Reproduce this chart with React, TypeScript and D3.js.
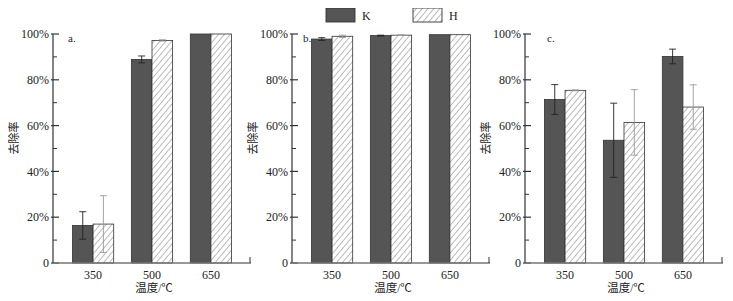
import * as d3 from "d3";
import { useRef, useEffect } from "react";

const temps = ["350", "500", "650"];
const series = ["K", "H"];
const panelNames = ["a.", "b.", "c."];

// removal rate (%) per panel, per temperature
const kValues = [
  [16.4, 88.9, 100],
  [97.8, 99.3, 99.7],
  [71.4, 53.6, 90.2],
];
const hValues = [
  [17.0, 97.2, 100],
  [99.0, 99.5, 99.7],
  [75.4, 61.4, 68.1],
];
const kErrors = [
  [6.0, 1.5, 0],
  [0.6, 0.2, 0],
  [6.5, 16.2, 3.2],
];
const hErrors = [
  [12.4, 0.3, 0],
  [0.5, 0.1, 0],
  [0.2, 14.3, 9.7],
];
const yTicks = [0, 20, 40, 60, 80, 100];
const yMinorTicks = [10, 30, 50, 70, 90];

const panelLeft = [53, 292, 525];
const letterOffset = [15, 11, 22];

const App: React.FC = () => {
  const containerRef = useRef<HTMLDivElement | null>(null);
  const width = 733;
  const height = 301;
  const plotWidth = 198;
  const top = 34;
  const bottom = 263;
  const textColor = "#222";
  const serif = "Liberation Serif, Times New Roman, DejaVu Serif, serif";
  const cjk = "Liberation Serif, Noto Sans CJK SC, serif";

  useEffect(() => {
    d3.select(containerRef.current).selectAll("svg").remove();

    const svg = d3.create("svg")
      .attr("width", width)
      .attr("height", height)
      .attr("viewBox", [0, 0, width, height])
      .style("display", "block")
      .style("font-family", serif);

    svg.append("rect").attr("width", width).attr("height", height).attr("fill", "#fff");

    const defs = svg.append("defs");
    const pat = defs.append("pattern")
      .attr("id", "hatch")
      .attr("patternUnits", "userSpaceOnUse")
      .attr("width", 4.5)
      .attr("height", 4.5)
      .attr("patternTransform", "rotate(40)");
    pat.append("rect").attr("width", 4.5).attr("height", 4.5).attr("fill", "#fff");
    pat.append("line")
      .attr("x1", 0).attr("y1", 0).attr("x2", 0).attr("y2", 4.5)
      .attr("stroke", "#555").attr("stroke-width", 0.8);

    const y = d3.scaleLinear().domain([0, 100]).range([bottom, top]);
    const x = d3.scaleBand().domain(temps).range([0, plotWidth]).paddingInner(0.3).paddingOuter(0.33);
    const xs = d3.scaleBand().domain(series).range([0, x.bandwidth()]);
    const fills: Record<string, string> = { K: "#555", H: "url(#hatch)" };
    const errColor: Record<string, string> = { K: "#222", H: "#999" };

    panelLeft.forEach((left, p) => {
      const g = svg.append("g").attr("transform", `translate(${left},0)`);

      // bars
      const rows = temps.flatMap((t, i) => [
        { t, s: "K", v: kValues[p][i], e: kErrors[p][i] },
        { t, s: "H", v: hValues[p][i], e: hErrors[p][i] },
      ]);

      g.selectAll("rect.bar")
        .data(rows)
        .join("rect")
        .attr("class", "bar")
        .attr("x", d => (x(d.t) || 0) + (xs(d.s) || 0))
        .attr("y", d => y(d.v))
        .attr("width", xs.bandwidth())
        .attr("height", d => y(0) - y(d.v))
        .attr("fill", d => fills[d.s])
        .attr("stroke", "#333")
        .attr("stroke-width", 0.8);

      // error bars
      const eb = g.selectAll("g.err")
        .data(rows.filter(d => d.e > 0))
        .join("g")
        .attr("class", "err")
        .attr("stroke", d => errColor[d.s])
        .attr("stroke-width", 0.9);
      const cx = (d: any) => (x(d.t) || 0) + (xs(d.s) || 0) + xs.bandwidth() / 2;
      eb.append("line")
        .attr("x1", cx).attr("x2", cx)
        .attr("y1", d => y(d.v + d.e)).attr("y2", d => y(d.v - d.e));
      eb.append("line")
        .attr("x1", d => cx(d) - 3.5).attr("x2", d => cx(d) + 3.5)
        .attr("y1", d => y(d.v + d.e)).attr("y2", d => y(d.v + d.e));
      eb.append("line")
        .attr("x1", d => cx(d) - 3.5).attr("x2", d => cx(d) + 3.5)
        .attr("y1", d => y(d.v - d.e)).attr("y2", d => y(d.v - d.e));

      // y axis
      g.append("line")
        .attr("x1", 0).attr("x2", 0).attr("y1", top).attr("y2", bottom)
        .attr("stroke", "#333").attr("stroke-width", 1.2);
      g.selectAll("line.major")
        .data(yTicks)
        .join("line")
        .attr("class", "major")
        .attr("x1", -2).attr("x2", 6)
        .attr("y1", d => y(d)).attr("y2", d => y(d))
        .attr("stroke", "#333").attr("stroke-width", 1.2);
      g.selectAll("line.minor")
        .data(yMinorTicks)
        .join("line")
        .attr("class", "minor")
        .attr("x1", 0).attr("x2", 4)
        .attr("y1", d => y(d)).attr("y2", d => y(d))
        .attr("stroke", "#333").attr("stroke-width", 1);
      g.selectAll("text.ytick")
        .data(yTicks)
        .join("text")
        .attr("class", "ytick")
        .attr("x", -4)
        .attr("y", d => y(d))
        .attr("dy", "0.35em")
        .attr("text-anchor", "end")
        .style("font-family", serif)
        .attr("font-size", 12)
        .attr("fill", textColor)
        .text(d => d === 0 ? "0" : `${d}%`);

      // x axis
      g.append("line")
        .attr("x1", 0).attr("x2", plotWidth).attr("y1", bottom).attr("y2", bottom)
        .attr("stroke", "#777").attr("stroke-width", 1.5);
      g.append("line")
        .attr("x1", plotWidth - 1).attr("x2", plotWidth - 1).attr("y1", bottom).attr("y2", bottom - 6)
        .attr("stroke", "#333").attr("stroke-width", 1);
      g.selectAll("text.xtick")
        .data(temps)
        .join("text")
        .attr("class", "xtick")
        .attr("x", d => (x(d) || 0) + x.bandwidth() / 2)
        .attr("y", 279)
        .attr("text-anchor", "middle")
        .style("font-family", serif)
        .attr("font-size", 12)
        .attr("fill", textColor)
        .text(d => d);

      g.append("text")
        .attr("x", plotWidth / 2 + 2)
        .attr("y", 291.5)
        .attr("text-anchor", "middle")
        .style("font-family", cjk)
        .attr("font-size", 11.5)
        .attr("fill", textColor)
        .text("温度/℃");

      g.append("text")
        .attr("transform", `translate(-39,138) rotate(-90)`)
        .attr("text-anchor", "middle")
        .attr("dy", "0.35em")
        .style("font-family", cjk)
        .attr("font-size", 11)
        .attr("fill", textColor)
        .text("去除率");

      g.append("text")
        .attr("x", letterOffset[p])
        .attr("y", 42)
        .style("font-family", serif)
        .attr("font-size", 11)
        .attr("fill", textColor)
        .text(panelNames[p]);
    });

    // legend
    const legendX = d3.scalePoint().domain(series).range([326, 413]);
    const lg = svg.append("g");
    series.forEach(s => {
      const lx = legendX(s) || 0;
      lg.append("rect")
        .attr("x", lx).attr("y", 8).attr("width", 29).attr("height", 14)
        .attr("fill", fills[s]).attr("stroke", "#333").attr("stroke-width", 0.9);
      lg.append("text")
        .attr("x", lx + 36).attr("y", 20)
        .style("font-family", serif).attr("font-size", 12).attr("fill", textColor)
        .text(s);
    });

    const node = svg.node();
    if (containerRef.current && node) {
      containerRef.current.appendChild(node);
    }
  }, []);

  return <div ref={containerRef} style={{ margin: -8 }}></div>;
};

export default App;
